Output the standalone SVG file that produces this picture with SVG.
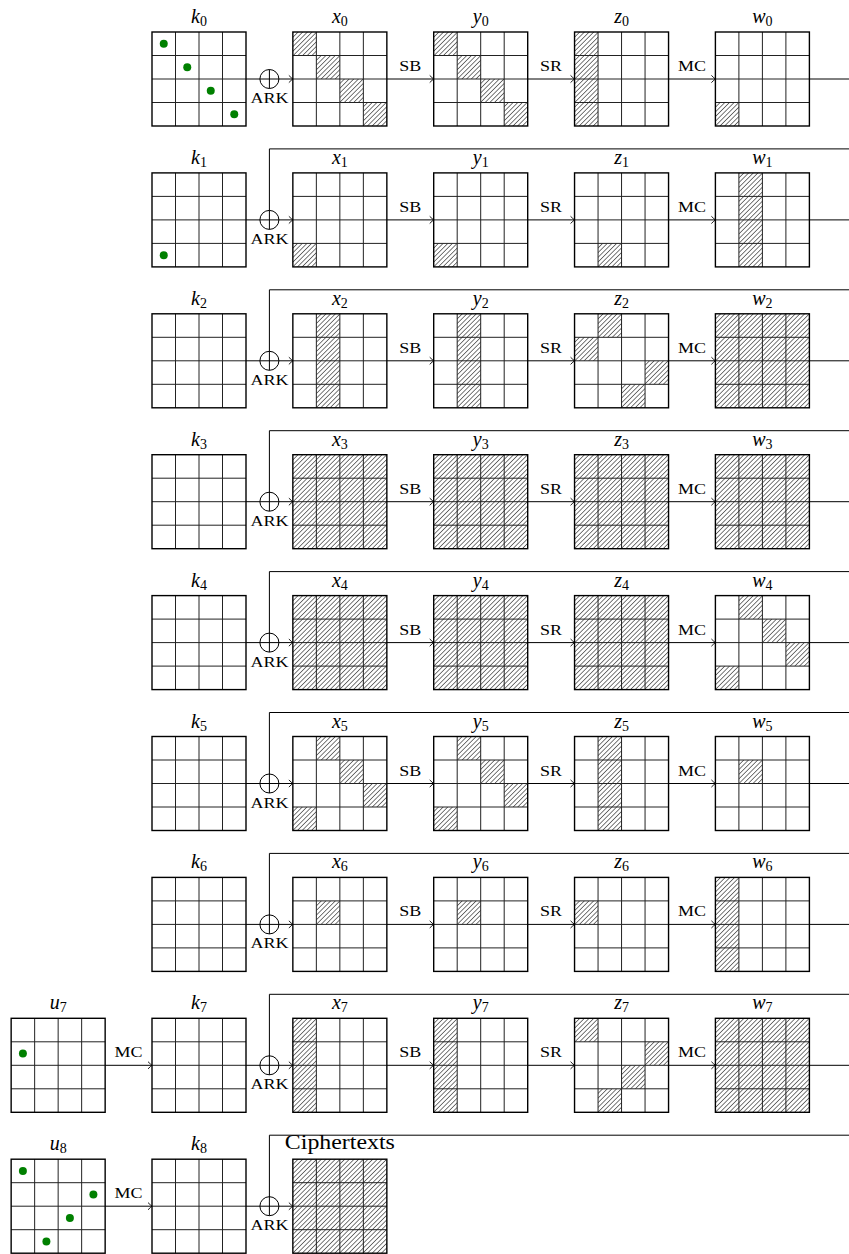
<svg xmlns="http://www.w3.org/2000/svg" xmlns:xlink="http://www.w3.org/1999/xlink" width="849" height="1254" viewBox="0 0 849 1254">
<style>
.lab{font-family:"Liberation Serif",serif;font-style:italic;font-size:20px;text-anchor:middle;fill:#000}
.sub{font-style:normal;font-size:14px}
.op{font-family:"Liberation Serif",serif;font-size:14.5px;text-anchor:middle;fill:#000}
.ct{font-family:"Liberation Serif",serif;font-size:20px;fill:#000}
.h{fill:url(#hatch);stroke:none}
.dot{fill:#008000}
.conn path{fill:none;stroke:#000;stroke-width:1}
.conn circle{fill:none;stroke:#000;stroke-width:1}
.inner{stroke:#222;stroke-width:1;fill:none}
.outer{stroke:#000;stroke-width:1.4;fill:none}
</style>
<defs>
<pattern id="hatch" patternUnits="userSpaceOnUse" width="3.3" height="3.3" patternTransform="rotate(45)">
<line x1="0" y1="0" x2="0" y2="3.3" stroke="#000" stroke-width="1.05"/>
</pattern>
<g id="grid">
<path class="inner" d="M23.5,0V94M47,0V94M70.5,0V94M0,23.5H94M0,47H94M0,70.5H94"/>
<rect class="outer" x="0" y="0" width="94" height="94"/>
</g>
<marker id="arr" markerUnits="userSpaceOnUse" markerWidth="10" markerHeight="10" refX="0" refY="0" viewBox="-6 -5 8 10" orient="auto" overflow="visible">
<path d="M-4,-3.6 Q-1.4,-1 0,0 Q-1.4,1 -4,3.6" fill="none" stroke="#000" stroke-width="0.9"/>
</marker>
</defs>
<rect x="0" y="0" width="849" height="1254" fill="#fff"/>

<g id="connectors" class="conn">
<path d="M246,79H292.85" marker-end="url(#arr)"/><path d="M386.85,79H433.7" marker-end="url(#arr)"/><path d="M527.7,79H574.55" marker-end="url(#arr)"/><path d="M668.55,79H715.4" marker-end="url(#arr)"/><path d="M809.4,79H849"/>
<circle cx="269.4" cy="79" r="9.5"/><path d="M269.4,69.5V88.5"/>
<path d="M246,219.9H292.85" marker-end="url(#arr)"/><path d="M386.85,219.9H433.7" marker-end="url(#arr)"/><path d="M527.7,219.9H574.55" marker-end="url(#arr)"/><path d="M668.55,219.9H715.4" marker-end="url(#arr)"/><path d="M809.4,219.9H849"/>
<circle cx="269.4" cy="219.9" r="9.5"/><path d="M849,148.9H269.4V229.4"/>
<path d="M246,360.8H292.85" marker-end="url(#arr)"/><path d="M386.85,360.8H433.7" marker-end="url(#arr)"/><path d="M527.7,360.8H574.55" marker-end="url(#arr)"/><path d="M668.55,360.8H715.4" marker-end="url(#arr)"/><path d="M809.4,360.8H849"/>
<circle cx="269.4" cy="360.8" r="9.5"/><path d="M849,289.8H269.4V370.3"/>
<path d="M246,501.7H292.85" marker-end="url(#arr)"/><path d="M386.85,501.7H433.7" marker-end="url(#arr)"/><path d="M527.7,501.7H574.55" marker-end="url(#arr)"/><path d="M668.55,501.7H715.4" marker-end="url(#arr)"/><path d="M809.4,501.7H849"/>
<circle cx="269.4" cy="501.7" r="9.5"/><path d="M849,430.7H269.4V511.2"/>
<path d="M246,642.6H292.85" marker-end="url(#arr)"/><path d="M386.85,642.6H433.7" marker-end="url(#arr)"/><path d="M527.7,642.6H574.55" marker-end="url(#arr)"/><path d="M668.55,642.6H715.4" marker-end="url(#arr)"/><path d="M809.4,642.6H849"/>
<circle cx="269.4" cy="642.6" r="9.5"/><path d="M849,571.6H269.4V652.1"/>
<path d="M246,783.5H292.85" marker-end="url(#arr)"/><path d="M386.85,783.5H433.7" marker-end="url(#arr)"/><path d="M527.7,783.5H574.55" marker-end="url(#arr)"/><path d="M668.55,783.5H715.4" marker-end="url(#arr)"/><path d="M809.4,783.5H849"/>
<circle cx="269.4" cy="783.5" r="9.5"/><path d="M849,712.5H269.4V793"/>
<path d="M246,924.4H292.85" marker-end="url(#arr)"/><path d="M386.85,924.4H433.7" marker-end="url(#arr)"/><path d="M527.7,924.4H574.55" marker-end="url(#arr)"/><path d="M668.55,924.4H715.4" marker-end="url(#arr)"/><path d="M809.4,924.4H849"/>
<circle cx="269.4" cy="924.4" r="9.5"/><path d="M849,853.4H269.4V933.9"/>
<path d="M105.15,1065.3H152" marker-end="url(#arr)"/>
<path d="M246,1065.3H292.85" marker-end="url(#arr)"/><path d="M386.85,1065.3H433.7" marker-end="url(#arr)"/><path d="M527.7,1065.3H574.55" marker-end="url(#arr)"/><path d="M668.55,1065.3H715.4" marker-end="url(#arr)"/><path d="M809.4,1065.3H849"/>
<circle cx="269.4" cy="1065.3" r="9.5"/><path d="M849,994.3H269.4V1074.8"/>
<path d="M105.15,1206.2H152" marker-end="url(#arr)"/>
<path d="M246,1206.2H292.85" marker-end="url(#arr)"/>
<circle cx="269.4" cy="1206.2" r="9.5"/><path d="M849,1135.2H269.4V1215.7"/>
</g>

<g id="oplabels">
<text class="op" x="269.4" y="103" textLength="38" lengthAdjust="spacingAndGlyphs">ARK</text><text class="op" x="410.3" y="71" textLength="22" lengthAdjust="spacingAndGlyphs">SB</text><text class="op" x="551.1" y="71" textLength="22" lengthAdjust="spacingAndGlyphs">SR</text><text class="op" x="692" y="71" textLength="28" lengthAdjust="spacingAndGlyphs">MC</text>
<text class="op" x="269.4" y="243.9" textLength="38" lengthAdjust="spacingAndGlyphs">ARK</text><text class="op" x="410.3" y="211.9" textLength="22" lengthAdjust="spacingAndGlyphs">SB</text><text class="op" x="551.1" y="211.9" textLength="22" lengthAdjust="spacingAndGlyphs">SR</text><text class="op" x="692" y="211.9" textLength="28" lengthAdjust="spacingAndGlyphs">MC</text>
<text class="op" x="269.4" y="384.8" textLength="38" lengthAdjust="spacingAndGlyphs">ARK</text><text class="op" x="410.3" y="352.8" textLength="22" lengthAdjust="spacingAndGlyphs">SB</text><text class="op" x="551.1" y="352.8" textLength="22" lengthAdjust="spacingAndGlyphs">SR</text><text class="op" x="692" y="352.8" textLength="28" lengthAdjust="spacingAndGlyphs">MC</text>
<text class="op" x="269.4" y="525.7" textLength="38" lengthAdjust="spacingAndGlyphs">ARK</text><text class="op" x="410.3" y="493.7" textLength="22" lengthAdjust="spacingAndGlyphs">SB</text><text class="op" x="551.1" y="493.7" textLength="22" lengthAdjust="spacingAndGlyphs">SR</text><text class="op" x="692" y="493.7" textLength="28" lengthAdjust="spacingAndGlyphs">MC</text>
<text class="op" x="269.4" y="666.6" textLength="38" lengthAdjust="spacingAndGlyphs">ARK</text><text class="op" x="410.3" y="634.6" textLength="22" lengthAdjust="spacingAndGlyphs">SB</text><text class="op" x="551.1" y="634.6" textLength="22" lengthAdjust="spacingAndGlyphs">SR</text><text class="op" x="692" y="634.6" textLength="28" lengthAdjust="spacingAndGlyphs">MC</text>
<text class="op" x="269.4" y="807.5" textLength="38" lengthAdjust="spacingAndGlyphs">ARK</text><text class="op" x="410.3" y="775.5" textLength="22" lengthAdjust="spacingAndGlyphs">SB</text><text class="op" x="551.1" y="775.5" textLength="22" lengthAdjust="spacingAndGlyphs">SR</text><text class="op" x="692" y="775.5" textLength="28" lengthAdjust="spacingAndGlyphs">MC</text>
<text class="op" x="269.4" y="948.4" textLength="38" lengthAdjust="spacingAndGlyphs">ARK</text><text class="op" x="410.3" y="916.4" textLength="22" lengthAdjust="spacingAndGlyphs">SB</text><text class="op" x="551.1" y="916.4" textLength="22" lengthAdjust="spacingAndGlyphs">SR</text><text class="op" x="692" y="916.4" textLength="28" lengthAdjust="spacingAndGlyphs">MC</text>
<text class="op" x="128.6" y="1057.3" textLength="28" lengthAdjust="spacingAndGlyphs">MC</text><text class="op" x="269.4" y="1089.3" textLength="38" lengthAdjust="spacingAndGlyphs">ARK</text><text class="op" x="410.3" y="1057.3" textLength="22" lengthAdjust="spacingAndGlyphs">SB</text><text class="op" x="551.1" y="1057.3" textLength="22" lengthAdjust="spacingAndGlyphs">SR</text><text class="op" x="692" y="1057.3" textLength="28" lengthAdjust="spacingAndGlyphs">MC</text>
<text class="op" x="128.6" y="1198.2" textLength="28" lengthAdjust="spacingAndGlyphs">MC</text><text class="op" x="269.4" y="1230.2" textLength="38" lengthAdjust="spacingAndGlyphs">ARK</text>
</g>

<g id="k0" transform="translate(152,32)"><use href="#grid"/><circle class="dot" cx="11.75" cy="11.75" r="4"/><circle class="dot" cx="35.25" cy="35.25" r="4"/><circle class="dot" cx="58.75" cy="58.75" r="4"/><circle class="dot" cx="82.25" cy="82.25" r="4"/><text class="lab" x="47" y="-9">k<tspan class="sub" dy="3">0</tspan></text></g>
<g id="x0" transform="translate(292.85,32)"><rect class="h" x="0" y="0" width="23.5" height="23.5"/><rect class="h" x="23.5" y="23.5" width="23.5" height="23.5"/><rect class="h" x="47" y="47" width="23.5" height="23.5"/><rect class="h" x="70.5" y="70.5" width="23.5" height="23.5"/><use href="#grid"/><text class="lab" x="47" y="-9">x<tspan class="sub" dy="3">0</tspan></text></g>
<g id="y0" transform="translate(433.7,32)"><rect class="h" x="0" y="0" width="23.5" height="23.5"/><rect class="h" x="23.5" y="23.5" width="23.5" height="23.5"/><rect class="h" x="47" y="47" width="23.5" height="23.5"/><rect class="h" x="70.5" y="70.5" width="23.5" height="23.5"/><use href="#grid"/><text class="lab" x="47" y="-9">y<tspan class="sub" dy="3">0</tspan></text></g>
<g id="z0" transform="translate(574.55,32)"><rect class="h" x="0" y="0" width="23.5" height="94"/><use href="#grid"/><text class="lab" x="47" y="-9">z<tspan class="sub" dy="3">0</tspan></text></g>
<g id="w0" transform="translate(715.4,32)"><rect class="h" x="0" y="70.5" width="23.5" height="23.5"/><use href="#grid"/><text class="lab" x="47" y="-9">w<tspan class="sub" dy="3">0</tspan></text></g>

<g id="k1" transform="translate(152,172.9)"><use href="#grid"/><circle class="dot" cx="11.75" cy="82.25" r="4"/><text class="lab" x="47" y="-9">k<tspan class="sub" dy="3">1</tspan></text></g>
<g id="x1" transform="translate(292.85,172.9)"><rect class="h" x="0" y="70.5" width="23.5" height="23.5"/><use href="#grid"/><text class="lab" x="47" y="-9">x<tspan class="sub" dy="3">1</tspan></text></g>
<g id="y1" transform="translate(433.7,172.9)"><rect class="h" x="0" y="70.5" width="23.5" height="23.5"/><use href="#grid"/><text class="lab" x="47" y="-9">y<tspan class="sub" dy="3">1</tspan></text></g>
<g id="z1" transform="translate(574.55,172.9)"><rect class="h" x="23.5" y="70.5" width="23.5" height="23.5"/><use href="#grid"/><text class="lab" x="47" y="-9">z<tspan class="sub" dy="3">1</tspan></text></g>
<g id="w1" transform="translate(715.4,172.9)"><rect class="h" x="23.5" y="0" width="23.5" height="94"/><use href="#grid"/><text class="lab" x="47" y="-9">w<tspan class="sub" dy="3">1</tspan></text></g>

<g id="k2" transform="translate(152,313.8)"><use href="#grid"/><text class="lab" x="47" y="-9">k<tspan class="sub" dy="3">2</tspan></text></g>
<g id="x2" transform="translate(292.85,313.8)"><rect class="h" x="23.5" y="0" width="23.5" height="94"/><use href="#grid"/><text class="lab" x="47" y="-9">x<tspan class="sub" dy="3">2</tspan></text></g>
<g id="y2" transform="translate(433.7,313.8)"><rect class="h" x="23.5" y="0" width="23.5" height="94"/><use href="#grid"/><text class="lab" x="47" y="-9">y<tspan class="sub" dy="3">2</tspan></text></g>
<g id="z2" transform="translate(574.55,313.8)"><rect class="h" x="23.5" y="0" width="23.5" height="23.5"/><rect class="h" x="0" y="23.5" width="23.5" height="23.5"/><rect class="h" x="70.5" y="47" width="23.5" height="23.5"/><rect class="h" x="47" y="70.5" width="23.5" height="23.5"/><use href="#grid"/><text class="lab" x="47" y="-9">z<tspan class="sub" dy="3">2</tspan></text></g>
<g id="w2" transform="translate(715.4,313.8)"><rect class="h" x="0" y="0" width="94" height="94"/><use href="#grid"/><text class="lab" x="47" y="-9">w<tspan class="sub" dy="3">2</tspan></text></g>

<g id="k3" transform="translate(152,454.7)"><use href="#grid"/><text class="lab" x="47" y="-9">k<tspan class="sub" dy="3">3</tspan></text></g>
<g id="x3" transform="translate(292.85,454.7)"><rect class="h" x="0" y="0" width="94" height="94"/><use href="#grid"/><text class="lab" x="47" y="-9">x<tspan class="sub" dy="3">3</tspan></text></g>
<g id="y3" transform="translate(433.7,454.7)"><rect class="h" x="0" y="0" width="94" height="94"/><use href="#grid"/><text class="lab" x="47" y="-9">y<tspan class="sub" dy="3">3</tspan></text></g>
<g id="z3" transform="translate(574.55,454.7)"><rect class="h" x="0" y="0" width="94" height="94"/><use href="#grid"/><text class="lab" x="47" y="-9">z<tspan class="sub" dy="3">3</tspan></text></g>
<g id="w3" transform="translate(715.4,454.7)"><rect class="h" x="0" y="0" width="94" height="94"/><use href="#grid"/><text class="lab" x="47" y="-9">w<tspan class="sub" dy="3">3</tspan></text></g>

<g id="k4" transform="translate(152,595.6)"><use href="#grid"/><text class="lab" x="47" y="-9">k<tspan class="sub" dy="3">4</tspan></text></g>
<g id="x4" transform="translate(292.85,595.6)"><rect class="h" x="0" y="0" width="94" height="94"/><use href="#grid"/><text class="lab" x="47" y="-9">x<tspan class="sub" dy="3">4</tspan></text></g>
<g id="y4" transform="translate(433.7,595.6)"><rect class="h" x="0" y="0" width="94" height="94"/><use href="#grid"/><text class="lab" x="47" y="-9">y<tspan class="sub" dy="3">4</tspan></text></g>
<g id="z4" transform="translate(574.55,595.6)"><rect class="h" x="0" y="0" width="94" height="94"/><use href="#grid"/><text class="lab" x="47" y="-9">z<tspan class="sub" dy="3">4</tspan></text></g>
<g id="w4" transform="translate(715.4,595.6)"><rect class="h" x="23.5" y="0" width="23.5" height="23.5"/><rect class="h" x="47" y="23.5" width="23.5" height="23.5"/><rect class="h" x="70.5" y="47" width="23.5" height="23.5"/><rect class="h" x="0" y="70.5" width="23.5" height="23.5"/><use href="#grid"/><text class="lab" x="47" y="-9">w<tspan class="sub" dy="3">4</tspan></text></g>

<g id="k5" transform="translate(152,736.5)"><use href="#grid"/><text class="lab" x="47" y="-9">k<tspan class="sub" dy="3">5</tspan></text></g>
<g id="x5" transform="translate(292.85,736.5)"><rect class="h" x="23.5" y="0" width="23.5" height="23.5"/><rect class="h" x="47" y="23.5" width="23.5" height="23.5"/><rect class="h" x="70.5" y="47" width="23.5" height="23.5"/><rect class="h" x="0" y="70.5" width="23.5" height="23.5"/><use href="#grid"/><text class="lab" x="47" y="-9">x<tspan class="sub" dy="3">5</tspan></text></g>
<g id="y5" transform="translate(433.7,736.5)"><rect class="h" x="23.5" y="0" width="23.5" height="23.5"/><rect class="h" x="47" y="23.5" width="23.5" height="23.5"/><rect class="h" x="70.5" y="47" width="23.5" height="23.5"/><rect class="h" x="0" y="70.5" width="23.5" height="23.5"/><use href="#grid"/><text class="lab" x="47" y="-9">y<tspan class="sub" dy="3">5</tspan></text></g>
<g id="z5" transform="translate(574.55,736.5)"><rect class="h" x="23.5" y="0" width="23.5" height="94"/><use href="#grid"/><text class="lab" x="47" y="-9">z<tspan class="sub" dy="3">5</tspan></text></g>
<g id="w5" transform="translate(715.4,736.5)"><rect class="h" x="23.5" y="23.5" width="23.5" height="23.5"/><use href="#grid"/><text class="lab" x="47" y="-9">w<tspan class="sub" dy="3">5</tspan></text></g>

<g id="k6" transform="translate(152,877.4)"><use href="#grid"/><text class="lab" x="47" y="-9">k<tspan class="sub" dy="3">6</tspan></text></g>
<g id="x6" transform="translate(292.85,877.4)"><rect class="h" x="23.5" y="23.5" width="23.5" height="23.5"/><use href="#grid"/><text class="lab" x="47" y="-9">x<tspan class="sub" dy="3">6</tspan></text></g>
<g id="y6" transform="translate(433.7,877.4)"><rect class="h" x="23.5" y="23.5" width="23.5" height="23.5"/><use href="#grid"/><text class="lab" x="47" y="-9">y<tspan class="sub" dy="3">6</tspan></text></g>
<g id="z6" transform="translate(574.55,877.4)"><rect class="h" x="0" y="23.5" width="23.5" height="23.5"/><use href="#grid"/><text class="lab" x="47" y="-9">z<tspan class="sub" dy="3">6</tspan></text></g>
<g id="w6" transform="translate(715.4,877.4)"><rect class="h" x="0" y="0" width="23.5" height="94"/><use href="#grid"/><text class="lab" x="47" y="-9">w<tspan class="sub" dy="3">6</tspan></text></g>

<g id="u7" transform="translate(11.15,1018.3)"><use href="#grid"/><circle class="dot" cx="11.75" cy="35.25" r="4"/><text class="lab" x="47" y="-9">u<tspan class="sub" dy="3">7</tspan></text></g>
<g id="k7" transform="translate(152,1018.3)"><use href="#grid"/><text class="lab" x="47" y="-9">k<tspan class="sub" dy="3">7</tspan></text></g>
<g id="x7" transform="translate(292.85,1018.3)"><rect class="h" x="0" y="0" width="23.5" height="94"/><use href="#grid"/><text class="lab" x="47" y="-9">x<tspan class="sub" dy="3">7</tspan></text></g>
<g id="y7" transform="translate(433.7,1018.3)"><rect class="h" x="0" y="0" width="23.5" height="94"/><use href="#grid"/><text class="lab" x="47" y="-9">y<tspan class="sub" dy="3">7</tspan></text></g>
<g id="z7" transform="translate(574.55,1018.3)"><rect class="h" x="0" y="0" width="23.5" height="23.5"/><rect class="h" x="70.5" y="23.5" width="23.5" height="23.5"/><rect class="h" x="47" y="47" width="23.5" height="23.5"/><rect class="h" x="23.5" y="70.5" width="23.5" height="23.5"/><use href="#grid"/><text class="lab" x="47" y="-9">z<tspan class="sub" dy="3">7</tspan></text></g>
<g id="w7" transform="translate(715.4,1018.3)"><rect class="h" x="0" y="0" width="94" height="94"/><use href="#grid"/><text class="lab" x="47" y="-9">w<tspan class="sub" dy="3">7</tspan></text></g>

<g id="u8" transform="translate(11.15,1159.2)"><use href="#grid"/><circle class="dot" cx="11.75" cy="11.75" r="4"/><circle class="dot" cx="82.25" cy="35.25" r="4"/><circle class="dot" cx="58.75" cy="58.75" r="4"/><circle class="dot" cx="35.25" cy="82.25" r="4"/><text class="lab" x="47" y="-9">u<tspan class="sub" dy="3">8</tspan></text></g>
<g id="k8" transform="translate(152,1159.2)"><use href="#grid"/><text class="lab" x="47" y="-9">k<tspan class="sub" dy="3">8</tspan></text></g>
<g id="ciphertexts" transform="translate(292.85,1159.2)"><rect class="h" x="0" y="0" width="94" height="94"/><use href="#grid"/><text class="ct" x="-8" y="-10" textLength="110" lengthAdjust="spacingAndGlyphs">Ciphertexts</text></g>
</svg>
